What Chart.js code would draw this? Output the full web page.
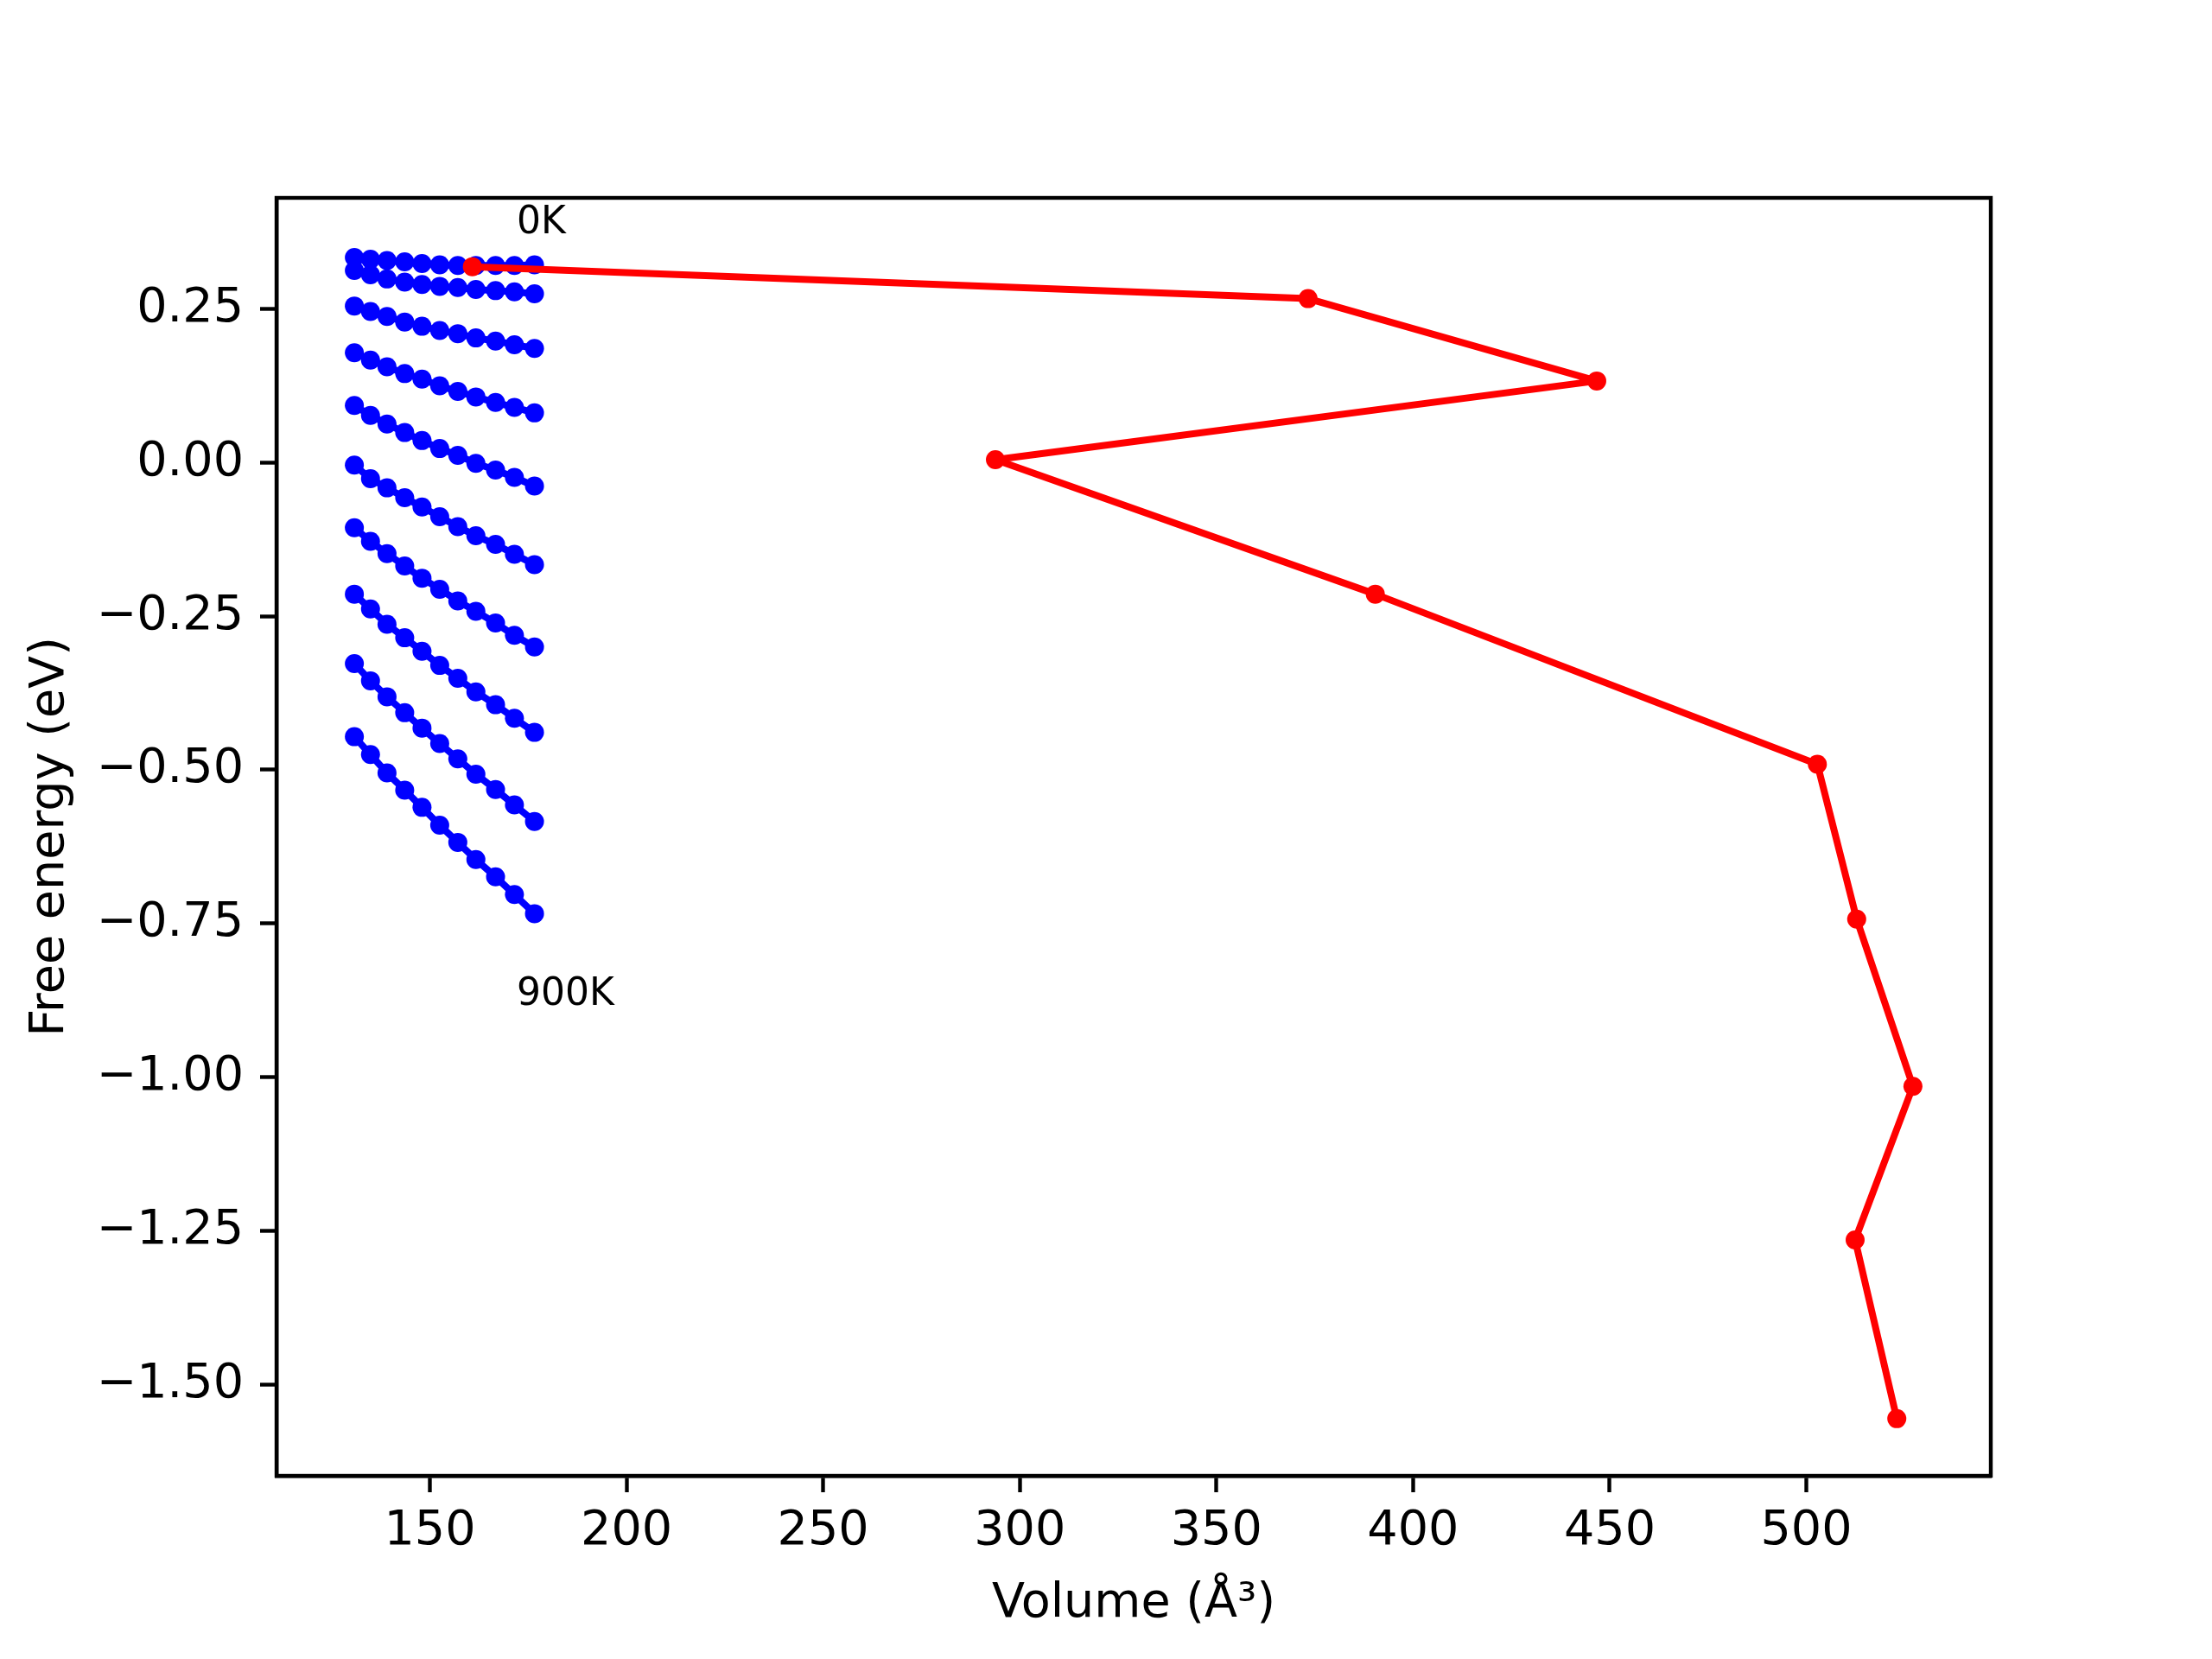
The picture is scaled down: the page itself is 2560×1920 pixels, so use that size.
<!DOCTYPE html>
<html><head><meta charset="utf-8">
<script src="https://cdn.jsdelivr.net/npm/chart.js@4/dist/chart.umd.min.js"></script>
<style>html,body{margin:0;padding:0;background:#fff}</style>
</head><body>
<canvas id="c" width="2560" height="1920"></canvas>
<script>
// Blue curves: free energy vs volume at each temperature
const volumes = [130.8, 134.9, 139.1, 143.6, 148.0, 152.5, 157.1, 161.7, 166.7, 171.5, 176.6];
const e0K   = [0.334, 0.331, 0.329, 0.327, 0.324, 0.322, 0.321, 0.321, 0.321, 0.321, 0.322];
const e100K = [0.313, 0.306, 0.299, 0.294, 0.290, 0.287, 0.285, 0.282, 0.280, 0.278, 0.275];
const e200K = [0.255, 0.246, 0.238, 0.229, 0.222, 0.215, 0.210, 0.203, 0.198, 0.192, 0.186];
const e300K = [0.179, 0.167, 0.156, 0.145, 0.136, 0.125, 0.116, 0.107, 0.098, 0.090, 0.081];
const e400K = [0.093, 0.077, 0.063, 0.049, 0.036, 0.023, 0.012, -0.001, -0.012, -0.024, -0.038];
const e500K = [-0.004, -0.026, -0.041, -0.057, -0.072, -0.088, -0.104, -0.119, -0.133, -0.149, -0.166];
const e600K = [-0.106, -0.128, -0.148, -0.168, -0.188, -0.206, -0.225, -0.242, -0.261, -0.281, -0.300];
const e700K = [-0.214, -0.238, -0.263, -0.285, -0.307, -0.330, -0.351, -0.373, -0.394, -0.416, -0.439];
const e800K = [-0.327, -0.355, -0.381, -0.407, -0.432, -0.457, -0.482, -0.507, -0.532, -0.557, -0.584];
const e900K = [-0.446, -0.475, -0.505, -0.533, -0.561, -0.590, -0.618, -0.646, -0.674, -0.703, -0.734];
const temperatureCurves = [e0K, e100K, e200K, e300K, e400K, e500K, e600K, e700K, e800K, e900K];

// Red line: equilibrium points
const redVolumes  = [160.8, 373.3, 446.7, 293.8, 390.4, 502.8, 512.8, 527.1, 512.4, 523.0];
const redEnergies = [0.319, 0.267, 0.133, 0.005, -0.214, -0.491, -0.743, -1.015, -1.265, -1.556];

// Axes
const xTicks = [150, 200, 250, 300, 350, 400, 450, 500];
const yTicks = [0.25, 0.00, -0.25, -0.50, -0.75, -1.00, -1.25, -1.50];
const xRange = [111.0, 546.9];
const yRange = [-1.649, 0.431];
const xTitle = 'Volume (Å³)';
const yTitle = 'Free energy (eV)';

// Text annotations (data coordinates)
const annotations = [
  {text: '0K',   x: 172.1, y: 0.3736},
  {text: '900K', x: 172.1, y: -0.883}
];

const FONT = "'DejaVu Sans', sans-serif";

const datasets = temperatureCurves.map((curve, k) => ({
  label: (k * 100) + 'K',
  data: volumes.map((v, i) => ({x: v, y: curve[i]})),
  showLine: true,
  borderColor: '#0000ff',
  backgroundColor: '#0000ff',
  borderWidth: 8,
  borderJoinStyle: 'round',
  borderCapStyle: 'round',
  pointRadius: 11,
  pointBorderWidth: 0,
  pointBackgroundColor: '#0000ff',
  order: 1
}));
datasets.push({
  label: 'equilibrium',
  data: redVolumes.map((v, i) => ({x: v, y: redEnergies[i]})),
  showLine: true,
  borderColor: '#ff0000',
  backgroundColor: '#ff0000',
  borderWidth: 8,
  borderJoinStyle: 'round',
  borderCapStyle: 'round',
  pointRadius: 11,
  pointBorderWidth: 0,
  pointBackgroundColor: '#ff0000',
  order: 0
});

const decor = {
  id: 'decor',
  beforeDraw(chart) {
    const ctx = chart.ctx;
    ctx.save();
    ctx.fillStyle = '#ffffff';
    ctx.fillRect(0, 0, chart.width, chart.height);
    ctx.restore();
  },
  afterDatasetsDraw(chart) {
    const ctx = chart.ctx;
    const xs = chart.scales.x, ys = chart.scales.y;
    ctx.save();
    ctx.fillStyle = '#000';
    ctx.font = '44px ' + FONT;
    ctx.textAlign = 'left';
    ctx.textBaseline = 'alphabetic';
    annotations.forEach(a => {
      ctx.fillText(a.text, xs.getPixelForValue(a.x), ys.getPixelForValue(a.y));
    });
    ctx.restore();
  },
  afterDraw(chart) {
    const a = chart.chartArea;
    const ctx = chart.ctx;
    ctx.save();
    ctx.strokeStyle = '#000';
    ctx.lineWidth = 4.4;
    ctx.strokeRect(a.left, a.top, a.right - a.left, a.bottom - a.top);
    ctx.restore();
  }
};

new Chart(document.getElementById('c'), {
  type: 'scatter',
  data: {datasets},
  options: {
    responsive: false,
    animation: false,
    events: [],
    layout: {padding: {left: 0, top: 229, right: 256, bottom: 0}},
    plugins: {legend: {display: false}, tooltip: {enabled: false}},
    scales: {
      x: {
        type: 'linear',
        min: xRange[0], max: xRange[1],
        afterFit(s) { s.height = 212; },
        afterBuildTicks(s) { s.ticks = xTicks.map(v => ({value: v})); },
        grid: {display: true, drawOnChartArea: false, drawTicks: true, tickLength: 19, tickWidth: 4.4, tickColor: '#000'},
        border: {display: true, color: '#000', width: 4.4},
        ticks: {
          color: '#000', font: {family: FONT, size: 55.6}, padding: 12,
          maxRotation: 0, autoSkip: false,
          callback: v => String(v)
        },
        title: {display: true, text: xTitle, color: '#000', font: {family: FONT, size: 55.6}, padding: {top: 0, bottom: 30}}
      },
      y: {
        type: 'linear',
        min: yRange[0], max: yRange[1],
        afterFit(s) { s.width = 320; },
        afterBuildTicks(s) { s.ticks = yTicks.map(v => ({value: v})); },
        grid: {display: true, drawOnChartArea: false, drawTicks: true, tickLength: 19, tickWidth: 4.4, tickColor: '#000'},
        border: {display: true, color: '#000', width: 4.4},
        ticks: {
          color: '#000', font: {family: FONT, size: 55.6}, padding: 19, autoSkip: false,
          callback: v => (v < 0 ? '\u2212' : '') + Math.abs(v).toFixed(2)
        },
        title: {display: true, text: yTitle, color: '#000', font: {family: FONT, size: 55.6}, padding: {top: 25, bottom: 0}}
      }
    }
  },
  plugins: [decor]
});
</script>
</body></html>
